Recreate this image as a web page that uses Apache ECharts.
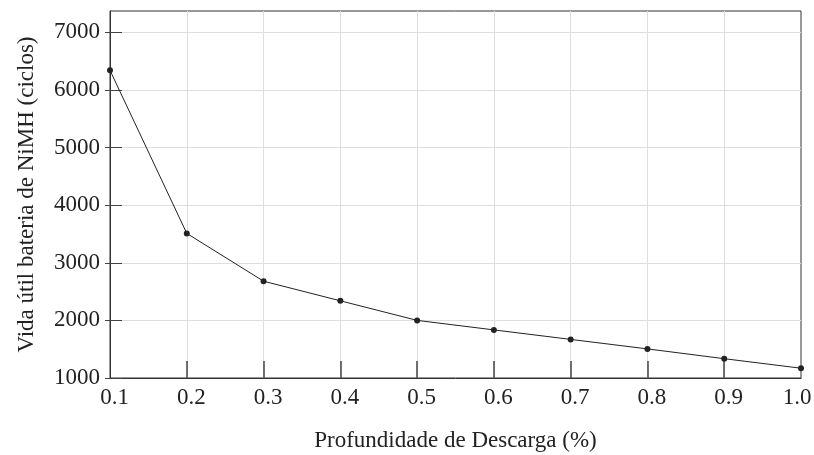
<!DOCTYPE html>
<html>
<head>
<meta charset="utf-8">
<script src="https://cdn.jsdelivr.net/npm/echarts@6/dist/echarts.min.js"></script>
<style>
  html, body { margin: 0; padding: 0; background: #fff; }
  #chart { width: 814px; height: 455px; }
</style>
</head>
<body>
<div id="chart"></div>
<script>
// profundidade de descarga vs vida útil (ciclos)
const depth = [0.1, 0.2, 0.3, 0.4, 0.5, 0.6, 0.7, 0.8, 0.9, 1.0]
const cycles = [6340, 3510, 2680, 2340, 2000, 1835, 1670, 1505, 1335, 1170]
const yTicks = [1000, 2000, 3000, 4000, 5000, 6000, 7000]
const xTicks = [0.2, 0.3, 0.4, 0.5, 0.6, 0.7, 0.8, 0.9]

const font = 'Liberation Serif'
const ink = '#222'

const chart = echarts.init(document.getElementById('chart'))

const option = {
  backgroundColor: '#fff',
  animation: false,
  grid: {
    left: 110,
    right: 13,
    top: 11,
    bottom: 77,
    outerBoundsMode: 'none',
    containLabel: false,
    show: true,
    borderColor: '#333',
    borderWidth: 1
  },
  xAxis: {
    type: 'value',
    min: 0.1,
    max: 1.0,
    interval: 0.1,
    name: 'Profundidade de Descarga (%)',
    nameLocation: 'middle',
    nameGap: 51,
    nameTextStyle: { fontFamily: font, fontSize: 23, color: ink },
    axisLine: { show: true, lineStyle: { color: '#333', width: 1 } },
    axisTick: {
      show: true,
      inside: true,
      length: 17,
      customValues: xTicks,
      lineStyle: { color: '#444', width: 1.5 }
    },
    axisLabel: {
      margin: 8,
      fontFamily: font,
      fontSize: 23,
      color: ink,
      // labels sit a few px right of their ticks, the last one a bit left
      formatter: v => (v >= 0.99 ? '{b|' + v.toFixed(1) + '}' : '{a|' + v.toFixed(1) + '}'),
      rich: {
        a: { fontFamily: font, fontSize: 23, color: ink, padding: [0, 0, 0, 9] },
        b: { fontFamily: font, fontSize: 23, color: ink, padding: [0, 8, 0, 0] }
      }
    },
    splitLine: { show: true, lineStyle: { color: '#dedede', width: 1 } }
  },
  yAxis: [
    {
      type: 'value',
      min: yTicks[0],
      max: 7370,
      interval: 1000,
      name: 'Vida útil bateria de NiMH (ciclos)',
      nameLocation: 'middle',
      nameGap: 72,
      nameTextStyle: { fontFamily: font, fontSize: 23, color: ink },
      axisLine: { show: true, lineStyle: { color: '#333', width: 1 } },
      axisTick: {
        show: true,
        inside: true,
        length: 12,
        customValues: yTicks,
        lineStyle: { color: '#444', width: 1 }
      },
      axisLabel: {
        margin: 10,
        fontFamily: font,
        fontSize: 23,
        color: ink,
        customValues: yTicks,
        formatter: v => String(v)
      },
      splitLine: { show: true, lineStyle: { color: '#dedede', width: 1 } }
    },
    {
      // only the short outer part of the crossing ticks
      type: 'value',
      position: 'left',
      min: yTicks[0],
      max: 7370,
      interval: 1000,
      axisLine: { show: false },
      axisTick: {
        show: true,
        inside: false,
        length: 5,
        customValues: yTicks,
        lineStyle: { color: '#444', width: 1 }
      },
      axisLabel: { show: false },
      splitLine: { show: false }
    }
  ],
  series: [
    {
      type: 'line',
      data: depth.map((d, i) => [d, cycles[i]]),
      yAxisIndex: 0,
      symbol: 'circle',
      symbolSize: 6,
      lineStyle: { color: ink, width: 1 },
      itemStyle: { color: ink },
      clip: false
    }
  ]
}

chart.setOption(option)
</script>
</body>
</html>
